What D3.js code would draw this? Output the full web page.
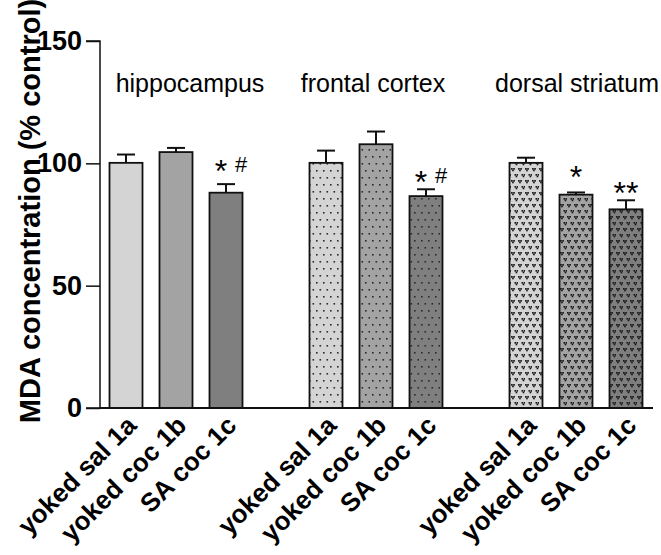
<!DOCTYPE html>
<html><head><meta charset="utf-8">
<script src="https://cdn.jsdelivr.net/npm/d3@7"></script>
<style>body{margin:0;background:#fff}svg{display:block}</style>
</head><body>
<svg id="c" width="661" height="555"></svg>
<script>
// ---- data ----
const regions = ["hippocampus", "frontal cortex", "dorsal striatum"];
const groups = ["yoked sal 1a", "yoked coc 1b", "SA coc 1c"];
const hippocampus = [100.2, 104.6, 88.0];
const hippocampusErr = [3.4, 1.7, 3.5];
const frontalCortex = [100.2, 107.8, 86.6];
const frontalCortexErr = [5.0, 5.2, 2.8];
const dorsalStriatum = [100.2, 87.2, 81.2];
const dorsalStriatumErr = [2.1, 0.9, 3.7];
const yTicks = [0, 50, 100, 150];
// significance marks: [region index, group index, text, value level]
const marks = [
  [0, 2, "*", 99.7], [0, 2, "#", 99.7],
  [1, 2, "*", 95.2], [1, 2, "#", 95.2],
  [2, 1, "*", 97.3], [2, 2, "**", 90.7]
];
const yTitle = "MDA concentration (% control)";

const values = [hippocampus, frontalCortex, dorsalStriatum];
const errs = [hippocampusErr, frontalCortexErr, dorsalStriatumErr];

const svg = d3.select("#c");
const font = "'Liberation Sans', Arial, sans-serif";

// slots: 3 bars, gap, 3 bars, gap, 3 bars
const slots = [];
regions.forEach((r, ri) => {
  groups.forEach((g, gi) => slots.push(`${ri}-${gi}`));
  if (ri < regions.length - 1) slots.push(`gap${ri}`);
});
const x = d3.scaleBand().domain(slots).range([101, 651]).paddingInner(0.34).paddingOuter(0.17);
const y = d3.scaleLinear().domain([0, 150]).range([408, 41]);

// patterns
const defs = svg.append("defs");
const fills = ["#d4d4d4", "#a3a3a3", "#7f7f7f"];
fills.forEach((f, i) => {
  const p = defs.append("pattern").attr("id", `dot${i}`).attr("patternUnits", "userSpaceOnUse")
    .attr("width", 7).attr("height", 14).attr("x", 0).attr("y", 0);
  p.append("rect").attr("width", 7).attr("height", 14).attr("fill", f);
  p.append("rect").attr("x", 1).attr("y", 2).attr("width", 1.6).attr("height", 1.6).attr("fill", "#2a2a2a");
  p.append("rect").attr("x", 4.5).attr("y", 9).attr("width", 1.6).attr("height", 1.6).attr("fill", "#2a2a2a");

  const v = defs.append("pattern").attr("id", `vee${i}`).attr("patternUnits", "userSpaceOnUse")
    .attr("width", 7).attr("height", 12).attr("x", 0).attr("y", 0);
  v.append("rect").attr("width", 7).attr("height", 12).attr("fill", f);
  const vpix = [[0,0],[2.2,0],[1.1,1.6],[3.5,6],[5.7,6],[4.6,7.6]];
  vpix.forEach(([px, py]) => v.append("rect").attr("x", px).attr("y", py).attr("width", 1.7).attr("height", 1.7).attr("fill", "#1a1a1a"));
});
const fillFor = (ri, gi) => ri === 0 ? fills[gi] : ri === 1 ? `url(#dot${gi})` : `url(#vee${gi})`;

// bars
const data = [];
regions.forEach((r, ri) => groups.forEach((g, gi) => data.push({ ri, gi, v: values[ri][gi], e: errs[ri][gi], key: `${ri}-${gi}` })));

const bw = x.bandwidth();
const gBars = svg.append("g");
data.forEach(d => {
  const cx = x(d.key) + bw / 2;
  gBars.append("line").attr("x1", cx).attr("x2", cx).attr("y1", y(d.v)).attr("y2", y(d.v + d.e))
    .attr("stroke", "#111").attr("stroke-width", 2);
  gBars.append("line").attr("x1", cx - 9).attr("x2", cx + 9).attr("y1", y(d.v + d.e)).attr("y2", y(d.v + d.e))
    .attr("stroke", "#111").attr("stroke-width", 2);
  gBars.append("rect").attr("x", x(d.key)).attr("y", y(d.v)).attr("width", bw).attr("height", y(0) - y(d.v))
    .attr("fill", fillFor(d.ri, d.gi)).attr("stroke", "#111").attr("stroke-width", 1.8);
});

// axes
const yAxis = svg.append("g").attr("transform", "translate(100,0)")
  .call(d3.axisLeft(y).tickValues(yTicks).tickSize(14).tickPadding(4));
yAxis.select(".domain").attr("stroke", "#111").attr("stroke-width", 1.5).attr("d", `M-14,${y(150)}H0V${y(0)}H-14`);
yAxis.selectAll(".tick line").attr("stroke", "#111").attr("stroke-width", 1.5);
yAxis.selectAll(".tick text").attr("font-family", font).attr("font-size", 27).attr("font-weight", "bold").attr("fill", "#000");

svg.append("line").attr("x1", 100).attr("x2", 653).attr("y1", y(0)).attr("y2", y(0))
  .attr("stroke", "#111").attr("stroke-width", 2);

// x labels
data.forEach(d => {
  const cx = x(d.key) + bw / 2;
  svg.append("text").attr("transform", `translate(${cx + 12},427) rotate(-45)`)
    .attr("text-anchor", "end").attr("font-family", font).attr("font-size", 26).attr("font-weight", "bold")
    .text(groups[d.gi]);
});

// region labels
const regionShift = [14, -3, 1];
regions.forEach((r, ri) => {
  const cx = x(`${ri}-1`) + bw / 2;
  svg.append("text").attr("x", cx + regionShift[ri]).attr("y", 92).attr("text-anchor", "middle")
    .attr("font-family", font).attr("font-size", 25).text(r);
});

// significance marks
marks.forEach(([ri, gi, t, lvl]) => {
  const key = `${ri}-${gi}`;
  const cx = x(key) + bw / 2;
  let dx = 0;
  if (t === "*" && marks.some(m => m[0] === ri && m[1] === gi && m[2] === "#")) dx = -5;
  if (t === "#") dx = 15;
  const isHash = t === "#";
  svg.append("text").attr("x", cx + dx).attr("y", y(lvl) + (isHash ? 8 : 18)).attr("text-anchor", "middle")
    .attr("font-family", font).attr("font-size", isHash ? 22 : 32).text(t);
});

// y title
svg.append("text").attr("transform", `translate(40,${211}) rotate(-90)`).attr("text-anchor", "middle")
  .attr("font-family", font).attr("font-size", 29).attr("font-weight", "bold").text(yTitle);
</script>
</body></html>
